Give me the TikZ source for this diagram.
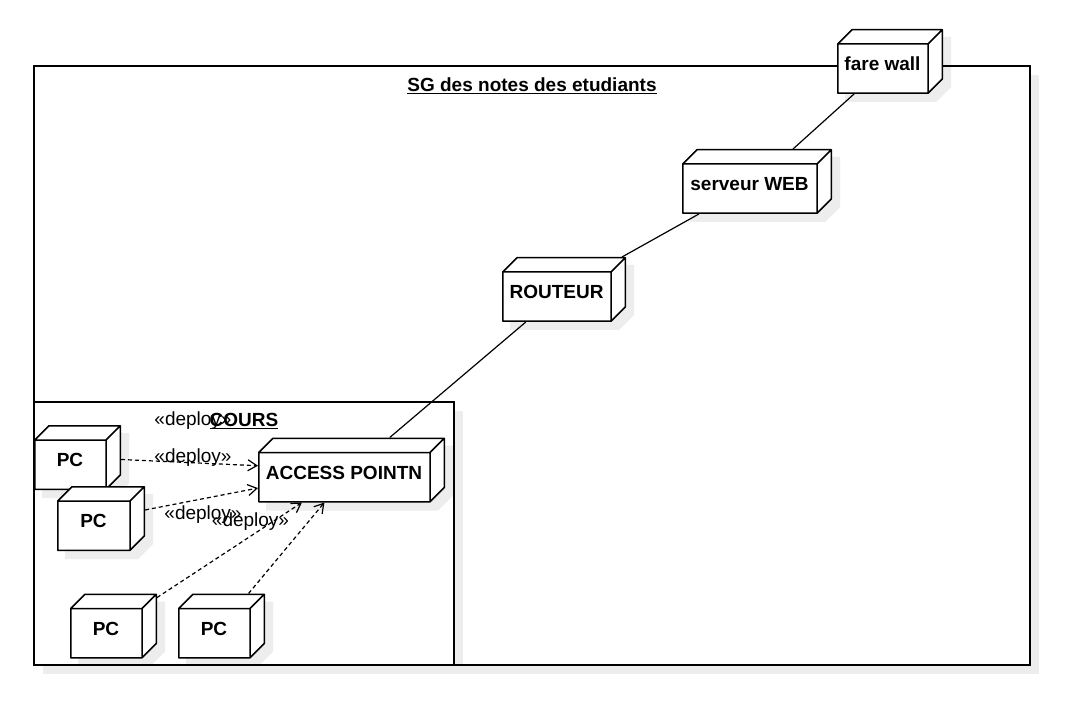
\documentclass[tikz,border=0pt]{standalone}
\usepackage{fontspec}
\setmainfont{Liberation Sans}
\usetikzlibrary{arrows.meta, positioning, shadows}

\pgfdeclarelayer{back}
\pgfdeclarelayer{shade}
\pgfdeclarelayer{border}
\pgfsetlayers{back,shade,border,main}

\tikzset{
  umlnode/.style={minimum width=#1, minimum height=65pt, inner sep=0pt, outer sep=0pt,
    path picture={
      \coordinate (nw) at ([shift={(0.75,0.75)}]path picture bounding box.north west);
      \coordinate (se) at ([shift={(-0.75,-0.75)}]path picture bounding box.south east);
      \coordinate (ne) at (se |- nw);
      \draw[line width=1.5pt, fill=white, line join=round]
        ([shift={(0,14.25)}]nw) rectangle ([shift={(-14.25,0)}]se)
        ([shift={(0,14.25)}]nw) -- ([shift={(14.25,0)}]nw) -- (ne) -- ([shift={(-14.25,14.25)}]ne) -- cycle
        ([shift={(-14.25,14.25)}]ne) -- (ne) -- ([shift={(0,-14.25)}]se) -- ([shift={(-14.25,0)}]se) -- cycle;
    }},
  nodetext/.style={font=\fontsize{19}{23}\selectfont\bfseries, xshift=-7.5pt, yshift=-2.5pt},
  frame/.style={fill=white, inner sep=0pt, outer sep=0pt,
    drop shadow={shadow xshift=9pt, shadow yshift=-9pt, fill=black!7, opacity=1}},
  frameline/.style={line width=1.7pt},
  frametitle/.style={font=\fontsize{19}{23}\selectfont\bfseries, anchor=center},
  link/.style={line width=1.2pt},
  deployline/.style={line width=1.2pt, dash pattern=on 4pt off 3pt,
    -{Straight Barb[length=9pt, width=11pt]}},
  deploytext/.style={inner sep=0pt},
}

\begin{document}
\begin{tikzpicture}[x=1pt, y=-1pt, font=\fontsize{19}{23}\selectfont]
  \useasboundingbox (0,0) rectangle (1071,711);

  % containers
  \begin{pgfonlayer}{back}
    \node[frame, minimum width=996, minimum height=599,
          label={[frametitle, yshift=-20pt]north:\underline{SG des notes des etudiants}}] (sys) at (532,365.5) {};
    \node[frame, minimum width=420, minimum height=263,
          label={[frametitle, yshift=-19pt]north:\underline{COURS}}] (cours) at (244,533.5) {};
  \end{pgfonlayer}
  \begin{pgfonlayer}{border}
    \draw[frameline] (sys.north west) rectangle (sys.south east);
    \draw[frameline] (cours.north west) rectangle (cours.south east);
  \end{pgfonlayer}

  % nodes
  \node[umlnode=106, label={[nodetext]center:fare wall}] (wall) at (890,61.5) {};
  \node[umlnode=150, label={[nodetext]center:serveur WEB}] (web) at (757,181.5) {};
  \node[umlnode=124, label={[nodetext]center:ROUTEUR}] (router) at (564,289.5) {};
  \node[umlnode=187, label={[nodetext]center:ACCESS POINTN}] (ap) at (351.5,470) {};
  \node[umlnode=87, label={[nodetext]center:PC}] (pc1) at (77.5,457.5) {};
  \node[umlnode=88, label={[nodetext]center:PC}] (pc2) at (101,518.5) {};
  \node[umlnode=87, label={[nodetext]center:PC}] (pc3) at (113.5,626) {};
  \node[umlnode=87, label={[nodetext]center:PC}] (pc4) at (221.5,626) {};

  \begin{pgfonlayer}{shade}
    \foreach \n in {wall,web,router,ap,pc1,pc2,pc3,pc4}
      \fill[black!7] ([shift={(8,23)}]\n.north west) -- ([shift={(23,8)}]\n.north west)
        -- ([shift={(8,8)}]\n.north east) -- ([shift={(8,-7)}]\n.south east)
        -- ([shift={(-7,8)}]\n.south east) -- ([shift={(8,8)}]\n.south west) -- cycle;
  \end{pgfonlayer}

  % links
  \draw[link] (wall) -- (web);
  \draw[link] (web) -- (router);
  \draw[link] (router) -- (ap);

  \draw[deployline] (pc1) -- (ap);
  \draw[deployline] (pc2) -- (ap);
  \draw[deployline] (pc3) -- (ap);
  \draw[deployline] (pc4) -- (ap);

  \node[deploytext] (dep1) at (193,421) {«deploy»};
  \node[deploytext] (dep2) at (193,458) {«deploy»};
  \node[deploytext] (dep3) at (203,515) {«deploy»};
  \node[deploytext] (dep4) at (250.5,522) {«deploy»};
\end{tikzpicture}
\end{document}
